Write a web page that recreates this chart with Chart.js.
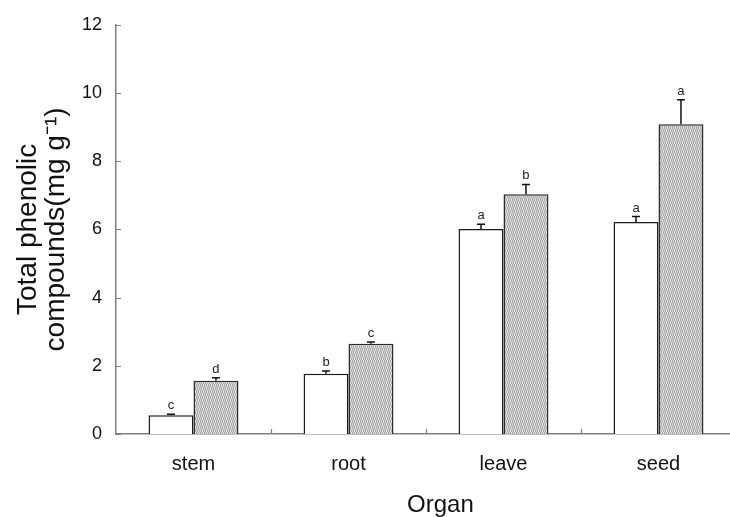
<!DOCTYPE html>
<html>
<head>
<meta charset="utf-8">
<script src="https://cdn.jsdelivr.net/npm/chart.js@4.4.1/dist/chart.umd.min.js"></script>
<style>
  html, body { margin: 0; padding: 0; background: #fff; overflow: hidden; }
  #wrap { position: absolute; left: 0; top: 0; width: 740px; height: 517px; }
</style>
</head>
<body>
<div id="wrap"><canvas id="chart"></canvas></div>
<script>
// Data
const organs = ['stem', 'root', 'leave', 'seed'];
const whiteValues = [0.55, 1.77, 6.01, 6.22];
const grayValues = [1.56, 2.65, 7.03, 9.08];
const whiteErrors = [0.03, 0.08, 0.14, 0.16];
const grayErrors = [0.09, 0.05, 0.29, 0.72];
const whiteLetters = ['c', 'b', 'a', 'a'];
const grayLetters = ['d', 'c', 'b', 'a'];
const yTicks = [0, 2, 4, 6, 8, 10, 12];

const FONT = "'Liberation Sans', Arial, sans-serif";

// fine vertical wavy hatch for the second series
function makeHatch() {
    const c = document.createElement('canvas');
    c.width = 4; c.height = 6;
    const g = c.getContext('2d');
    g.fillStyle = '#d0d0d0';
    g.fillRect(0, 0, 4, 6);
    g.fillStyle = '#ababab';
    for (let y = 0; y < 6; y++) {
        const x = y < 3 ? 0 : 1;
        g.fillRect(x, y, 1, 1);
        g.fillRect(x + 2, y, 1, 1);
    }
    g.fillStyle = '#e2e2e2';
    for (let y = 0; y < 6; y++) {
        const x = y < 3 ? 1 : 0;
        g.fillRect(x + 2, y, 1, 1);
    }
    return g.createPattern(c, 'repeat');
}

// error bars, letters and inward tick marks
const extras = {
    id: 'extras',
    afterDatasetsDraw(chart) {
        const ctx = chart.ctx;
        const yScale = chart.scales.y;
        const errs = [whiteErrors, grayErrors];
        const letters = [whiteLetters, grayLetters];
        const vals = [whiteValues, grayValues];
        ctx.save();
        ctx.strokeStyle = '#111';
        ctx.lineWidth = 1.5;
        ctx.fillStyle = '#222';
        ctx.font = '13px ' + FONT;
        ctx.textAlign = 'center';
        ctx.textBaseline = 'bottom';
        for (let d = 0; d < 2; d++) {
            const meta = chart.getDatasetMeta(d);
            meta.data.forEach((bar, i) => {
                const x = bar.x;
                const yTop = yScale.getPixelForValue(vals[d][i]);
                const yErr = yScale.getPixelForValue(vals[d][i] + errs[d][i]);
                ctx.beginPath();
                ctx.moveTo(x, yTop);
                ctx.lineTo(x, yErr);
                ctx.moveTo(x - 4, yErr);
                ctx.lineTo(x + 4, yErr);
                ctx.stroke();
                ctx.fillText(letters[d][i], x, yErr - 2);
            });
        }
        ctx.restore();
    },
    afterDraw(chart) {
        const ctx = chart.ctx;
        const area = chart.chartArea;
        const xScale = chart.scales.x;
        const yScale = chart.scales.y;
        ctx.save();
        ctx.strokeStyle = '#808080';
        ctx.lineWidth = 1.2;
        ctx.beginPath();
        yTicks.forEach(v => {
            const y = Math.round(yScale.getPixelForValue(v)) + 0.5;
            ctx.moveTo(area.left, y);
            ctx.lineTo(area.left + 5, y);
        });
        for (let i = 1; i < organs.length; i++) {
            const x = Math.round((xScale.getPixelForTick(i - 1) + xScale.getPixelForTick(i)) / 2) + 0.5;
            ctx.moveTo(x, area.bottom);
            ctx.lineTo(x, area.bottom - 5);
        }
        ctx.stroke();
        ctx.restore();
    }
};

const hatch = makeHatch();

new Chart(document.getElementById('chart'), {
    type: 'bar',
    data: {
        labels: organs,
        datasets: [
            {
                data: whiteValues,
                backgroundColor: '#ffffff',
                borderColor: '#1a1a1a',
                borderWidth: 1.5,
                borderSkipped: 'bottom'
            },
            {
                data: grayValues,
                backgroundColor: hatch,
                borderColor: '#2a2a2a',
                borderWidth: 1.5,
                borderSkipped: 'bottom'
            }
        ]
    },
    options: {
        responsive: true,
        maintainAspectRatio: false,
        animation: false,
        layout: { padding: { top: 15, right: 4, left: 0, bottom: 0 } },
        plugins: {
            legend: { display: false },
            tooltip: { enabled: false }
        },
        datasets: {
            bar: { categoryPercentage: 0.58, barPercentage: 1.0 }
        },
        scales: {
            x: {
                grid: { display: false, drawTicks: false },
                border: { display: true, color: '#808080', width: 1.5 },
                ticks: { color: '#111', padding: 18, font: { family: FONT, size: 20 } },
                title: {
                    display: true,
                    text: '\u2003\u2009Organ',
                    color: '#111',
                    font: { family: FONT, size: 24, lineHeight: 1.0 },
                    padding: { top: 0, bottom: 0 }
                },
                afterFit(scale) { scale.height = 83; }
            },
            y: {
                min: 0,
                max: 12,
                grid: { display: false, drawTicks: false },
                border: { display: true, color: '#808080', width: 1.5 },
                ticks: {
                    stepSize: 2,
                    color: '#111',
                    padding: 14,
                    font: { family: FONT, size: 18 }
                },
                title: {
                    display: true,
                    text: ['Total phenolic', 'compounds(mg g\u207B\u00B9)'],
                    color: '#111',
                    font: { family: FONT, size: 28, lineHeight: 0.98 },
                    padding: { top: 15, bottom: 0 }
                },
                afterFit(scale) { scale.width = 116; }
            }
        }
    },
    plugins: [extras]
});
</script>
</body>
</html>
